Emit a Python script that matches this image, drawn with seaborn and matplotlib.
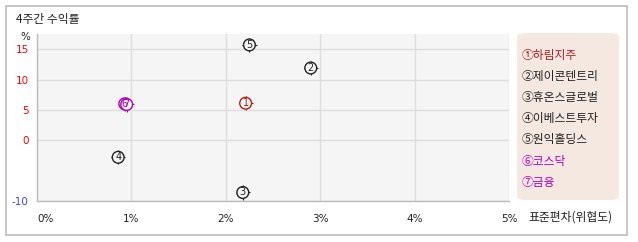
import matplotlib
matplotlib.use("Agg")
import matplotlib.pyplot as plt
import seaborn as sns
import pandas as pd
from matplotlib.patches import FancyBboxPatch, Rectangle

names = ["하림지주", "제이콘텐트리", "휴온스글로벌", "이베스트투자", "원익홀딩스", "코스닥", "금융"]
labels = ["1", "2", "3", "4", "5", "6", "7"]
circled = ["①", "②", "③", "④", "⑤", "⑥", "⑦"]
std_dev = [2.21, 2.90, 2.18, 0.86, 2.25, 0.93, 0.95]
returns = [6.1, 11.9, -8.6, -2.8, 15.7, 6.0, 5.9]
colors = ["#b81c1c", "#222222", "#222222", "#222222", "#222222", "#b000b8", "#b000b8"]
xticks = [0, 1, 2, 3, 4, 5]
xticklabels = ["0%", "1%", "2%", "3%", "4%", "5%"]
yticks = [-10, 0, 5, 10, 15]
yticklabels = ["-10", "0", "5", "10", "15"]
ytick_colors = ["#3344ff", "red", "red", "red", "red"]

sns.set_theme(style="white")
plt.rcParams['font.family'] = ['Noto Sans CJK KR', 'DejaVu Sans']

df = pd.DataFrame({"name": names, "x": std_dev, "y": returns})

fig = plt.figure(figsize=(6.38, 2.42), dpi=100)
# outer border
fig.patches.append(Rectangle((6/638, 1 - 235/242), 621/638, 229/242, transform=fig.transFigure,
                             fill=False, edgecolor="#bbbbbb", linewidth=1.2))
ax = fig.add_axes([37/638, 1 - 201/242, 472/638, 167/242])
ax.set_facecolor("#f5f5f5")
pal = dict(zip(names, colors))
sns.scatterplot(data=df, x="x", y="y", hue="name", palette=pal, marker="+", s=105,
                linewidth=0.8, legend=False, ax=ax, zorder=3)
sns.scatterplot(data=df, x="x", y="y", hue="name", palette=pal, marker="o", s=72,
                linewidth=1.0, legend=False, ax=ax, zorder=4)
coll = ax.collections[-1]
coll.set_facecolor("#f5f5f5")
coll.set_edgecolor(colors)
for x, y, lab, c in zip(std_dev, returns, labels, colors):
    ax.text(x, y, lab, ha="center", va="center", fontsize=7, color=c, zorder=5,
            family="DejaVu Sans")

ax.set_xlim(0, 5)
ax.set_ylim(-10, 17.5)
ax.set_xticks(xticks)
ax.set_xticklabels(xticklabels, fontsize=7.5, color="#222222", family="DejaVu Sans")
ax.get_xticklabels()[0].set_ha("left")
ax.set_yticks(yticks)
ax.set_yticklabels(yticklabels, fontsize=7.5, family="DejaVu Sans")
for t, c in zip(ax.get_yticklabels(), ytick_colors):
    t.set_color(c)
ax.tick_params(axis="x", length=0, pad=9)
ax.tick_params(axis="y", length=0, pad=6)
ax.grid(True, color="#dddddd", linewidth=1)
ax.set_axisbelow(True)
for s in ["top", "right"]:
    ax.spines[s].set_visible(False)
for s in ["left", "bottom"]:
    ax.spines[s].set_color("#bbbbbb")
    ax.spines[s].set_linewidth(1)
ax.set_xlabel("")
ax.set_ylabel("")

fig.text(16/638, 1 - 19/242, "4주간 수익률", fontsize=8.5, va="center", ha="left", color="#222222")
fig.text(25/638, 1 - 37/242, "%", fontsize=7.5, va="center", ha="center", color="#222222",
         family="DejaVu Sans")
fig.text(528/638, 1 - 217/242, "표준편차(위협도)", fontsize=8.5, va="center", ha="left", color="#222222")

# legend box
fig.patches.append(FancyBboxPatch((517/638, 1 - 200/242), 102/638, 167/242,
                                  boxstyle="round,pad=0,rounding_size=0.015",
                                  transform=fig.transFigure, facecolor="#f5e8e1",
                                  edgecolor="none"))
for i, (cn, n, c) in enumerate(zip(circled, names, colors)):
    fig.text(522/638, 1 - (55 + i * 21.2) / 242, cn + n, fontsize=8.5, va="center", ha="left",
             color=c)

fig.savefig("out.png", dpi=100)
